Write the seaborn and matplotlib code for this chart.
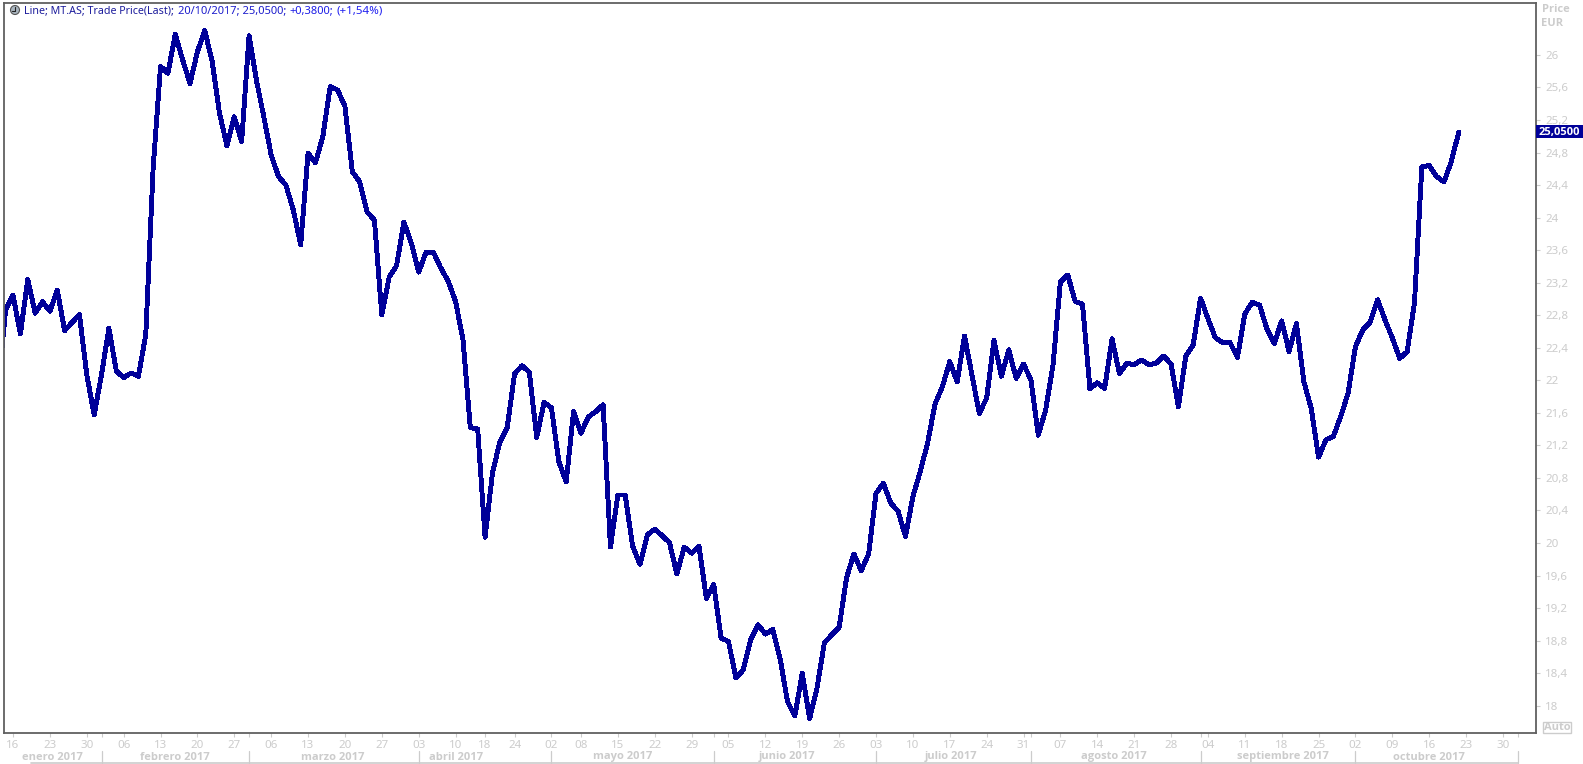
import matplotlib
matplotlib.use("Agg")
import matplotlib.pyplot as plt
import numpy as np
import seaborn as sns
from matplotlib.patches import Circle, Rectangle
from matplotlib.transforms import Affine2D, blended_transform_factory

# ---------- data ----------
prices_jan_mar = [21.92, 22.865, 23.045, 22.57, 23.24, 22.825, 22.965, 22.85, 23.11, 22.61,
                  22.71, 22.81, 22.07, 21.575, 22.07, 22.64, 22.12, 22.03, 22.09, 22.05,
                  22.56, 24.61, 25.86, 25.775, 26.255, 25.94, 25.65, 26.04, 26.30, 25.92,
                  25.28, 24.885, 25.24, 24.935, 26.235, 25.69, 25.24, 24.77, 24.505, 24.40,
                  24.095, 23.665, 24.79, 24.675, 24.995, 25.61, 25.57, 25.37, 24.565, 24.44,
                  24.07]
prices_mar_may = [23.97, 22.805, 23.27, 23.41, 23.945, 23.685, 23.33, 23.575, 23.575, 23.38,
                  23.22, 22.97, 22.50, 21.42, 21.40, 20.07, 20.86, 21.24, 21.42, 22.08,
                  22.18, 22.10, 21.30, 21.73, 21.66, 21.00, 20.75, 21.62, 21.35, 21.55,
                  21.615, 21.70, 19.95, 20.59, 20.59, 19.96, 19.74, 20.10, 20.17, 20.09,
                  20.005, 19.62, 19.95, 19.875, 19.96, 19.32, 19.49]
prices_jun_jul = [18.83, 18.79, 18.34, 18.44, 18.81, 18.995, 18.88, 18.94, 18.58, 18.05,
                  17.875, 18.40, 17.84, 18.215, 18.775, 18.87, 18.96, 19.57, 19.865, 19.66,
                  19.865, 20.61, 20.735, 20.49, 20.39, 20.08, 20.57, 20.88, 21.23, 21.71,
                  21.92, 22.23, 21.98, 22.545, 22.07, 21.595, 21.78, 22.49, 22.05, 22.375,
                  22.025, 22.20, 22.005, 21.325, 21.635, 22.19]
prices_aug_oct = [23.21, 23.295, 22.97, 22.935, 21.895, 21.97, 21.90, 22.51, 22.085, 22.21,
                  22.19, 22.25, 22.19, 22.21, 22.30, 22.20, 21.675, 22.30, 22.435, 23.01,
                  22.76, 22.525, 22.465, 22.465, 22.28, 22.815, 22.96, 22.925, 22.63, 22.455,
                  22.73, 22.355, 22.70, 21.985, 21.655, 21.055, 21.27, 21.31, 21.555, 21.84,
                  22.415, 22.62, 22.715, 22.99, 22.745, 22.52, 22.27, 22.35, 22.95, 24.625,
                  24.64, 24.505, 24.44, 24.69, 25.05]

day_ticks = [2, 7, 12, 17, 22, 27, 32, 37, 42, 47, 52, 57, 62, 66, 70, 75, 79, 84, 89, 94, 99,
             104, 109, 114, 119, 124, 129, 134, 139, 144, 149, 154, 159, 164, 169, 174, 179,
             184, 189, 194, 199, 204]
day_labels = ["16", "23", "30", "06", "13", "20", "27", "06", "13", "20", "27", "03", "10", "18",
              "24", "02", "08", "15", "22", "29", "05", "12", "19", "26", "03", "10", "17", "24",
              "31", "07", "14", "21", "28", "04", "11", "18", "25", "02", "09", "16", "23", "30"]
month_edges = [14, 34, 57, 75, 97, 119, 140, 163, 184, 206]
month_centres = [7.3, 24, 45.4, 62, 84.7, 107, 129.2, 151.3, 174.2, 194]
month_labels = ["enero 2017", "febrero 2017", "marzo 2017", "abril 2017", "mayo 2017",
                "junio 2017", "julio 2017", "agosto 2017", "septiembre 2017", "octubre 2017"]
price_ticks = [18, 18.4, 18.8, 19.2, 19.6, 20, 20.4, 20.8, 21.2, 21.6, 22, 22.4, 22.8, 23.2,
               23.6, 24, 24.4, 24.8, 25.2, 25.6, 26]
price_labels = ["18", "18,4", "18,8", "19,2", "19,6", "20", "20,4", "20,8", "21,2", "21,6", "22",
                "22,4", "22,8", "23,2", "23,6", "24", "24,4", "24,8", "25,2", "25,6", "26"]

prices = prices_jan_mar + prices_mar_may + prices_jun_jul + prices_aug_oct
session = np.arange(len(prices))

# ---------- style ----------
W, H = 1583, 764
NAVY = "#000099"
GREY = "#cccccc"
FRAME = "#606060"
BOLD = ["Open Sans", "DejaVu Sans"]
sns.set_theme(style="white")
plt.rcParams["font.family"] = ["Noto Sans", "DejaVu Sans"]
plt.rcParams["font.size"] = 8

fig = plt.figure(figsize=(W / 100, H / 100), dpi=100, facecolor="white")
L, R, T, B = 3.5, 1535.5, 2.5, 733
ax = fig.add_axes([L / W, 1 - B / H, (R - L) / W, (B - T) / H])
px = Affine2D().scale(1 / W, -1 / H).translate(0, 1) + fig.transFigure
xpx = blended_transform_factory(ax.transData, px)
pxy = blended_transform_factory(px, ax.transData)

sns.lineplot(x=session, y=prices, ax=ax, color=NAVY, linewidth=2.8, errorbar=None,
             antialiased=False, solid_joinstyle="round", solid_capstyle="round")

ax.set_xlim(0.712, 208.41)
ax.set_ylim(17.664, 26.645)
ax.set_xlabel("")
ax.set_ylabel("")
for s in ax.spines.values():
    s.set_color(FRAME)
    s.set_linewidth(1.3)

ax.yaxis.tick_right()
ax.set_yticks(price_ticks, price_labels)
ax.set_xticks(day_ticks, day_labels)
ax.set_xticks(month_edges, minor=True)
ax.tick_params(axis="y", length=3, width=0.8, color=GREY, labelcolor=GREY, labelsize=8.3, pad=4,
               right=True, left=False)
ax.tick_params(axis="x", which="major", length=3, width=0.8, color=GREY, labelcolor=GREY,
               labelsize=8.3, pad=2, bottom=True)
ax.tick_params(axis="x", which="minor", length=3, width=0.8, color=GREY, bottom=True)

# month band
for c, lab in zip(month_centres, month_labels):
    fig.text(c, 757, lab, transform=xpx, color=GREY, fontsize=8, fontweight="bold",
             family=BOLD, ha="center", va="center")
for e in month_edges:
    ax.plot([e, e], [751, 763], transform=xpx, color=GREY, lw=0.9, clip_on=False)
fig.add_artist(plt.Line2D([31, 1518], [763, 763], transform=px, color=GREY, lw=1.2))

# right-hand labels
fig.text(1542, 9, "Price", transform=px, color=GREY, fontsize=8, fontweight="bold", family=BOLD,
         va="center")
fig.text(1541, 24, "EUR", transform=px, color=GREY, fontsize=8, fontweight="bold", family=BOLD,
         va="center")
fig.add_artist(Rectangle((1536, 125), 47, 13, transform=px, facecolor=NAVY, edgecolor="none"))
fig.text(1559.5, prices[-1], "25,0500", transform=pxy, color="white", fontsize=8,
         fontweight="bold", family=BOLD, ha="center", va="center")
fig.add_artist(Rectangle((1543, 722), 28, 10.5, transform=px, facecolor="white",
                         edgecolor=GREY, lw=1))
fig.text(1557, 727, "Auto", transform=px, color=GREY, fontsize=8, fontweight="bold", family=BOLD,
         ha="center", va="center")

# header
fig.add_artist(Circle((15, 10), 4.5, transform=px, facecolor="#a8b4be", edgecolor="#555555", lw=0.8))
fig.add_artist(plt.Line2D([15, 15, 12], [7, 10.5, 10.5], transform=px, color="#222222", lw=0.8))
fig.text(24, 11, "Line; MT.AS; Trade Price(Last);", transform=px, color="#1c1c9c",
         fontsize=7.7, va="center")
fig.text(178, 11, "20/10/2017; 25,0500;", transform=px, color="#1c1ccc", fontsize=8, va="center")
fig.text(289, 11, "+0,3800;", transform=px, color="#1c1ce6", fontsize=8, va="center")
fig.text(337, 11, "(+1,54%)", transform=px, color="#2020f0", fontsize=8.3, va="center")

fig.savefig("out.png", dpi=100, facecolor="white")
